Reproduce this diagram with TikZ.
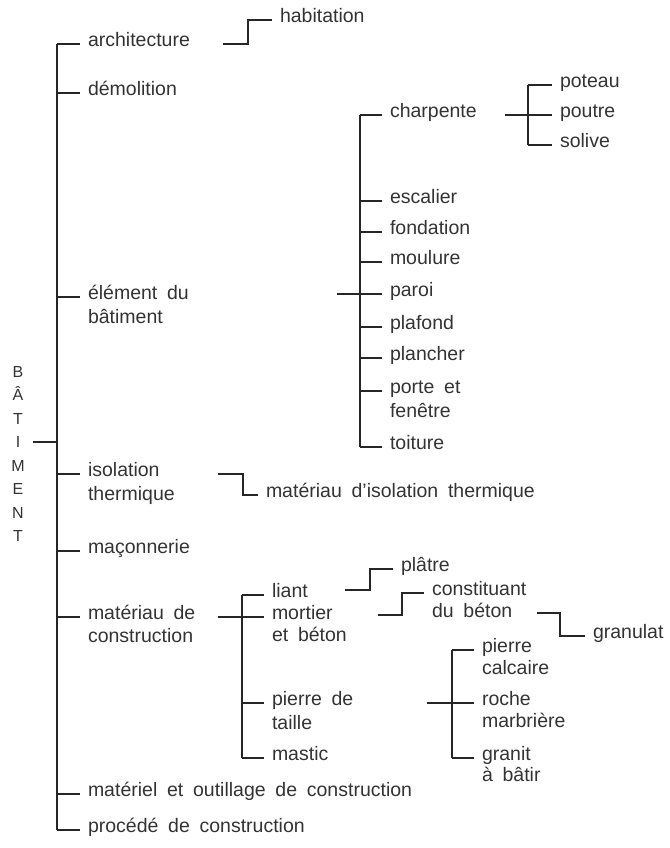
\documentclass[tikz,border=0pt]{standalone}
\usepackage{fontspec}
\setmainfont{Liberation Sans}
\begin{document}
\begin{tikzpicture}[x=1pt,y=-1pt,
  lbl/.style={anchor=mid west, inner xsep=8pt, inner ysep=0pt, outer sep=0pt,
    font={\fontsize{19.5}{23}\selectfont\spaceskip=0.5em\relax}, text=black!80},
  ln/.style={draw=black!85, line width=1.1pt}]
\useasboundingbox (0,0) rectangle (669,848);

% root
\node[font={\fontsize{16}{23.5}\selectfont}, align=center, text=black!80, inner sep=0pt] (root) at (18,454) {B\\Â\\T\\I\\M\\E\\N\\T};
\coordinate (rt) at (33,442);
\coordinate (t1) at (57,0);

% level 1
\node[lbl] (arch) at (80,44) {architecture};
\node[lbl] (demo) at (80,93) {démolition};
\node[lbl] (elem) at (80,297) {élément du};
\node[lbl] (elemb) at (80,321) {bâtiment};
\node[lbl] (iso) at (80,474) {isolation};
\node[lbl] (isob) at (80,498) {thermique};
\node[lbl] (macon) at (80,551) {maçonnerie};
\node[lbl] (matc) at (80,617) {matériau de};
\node[lbl] (matcb) at (80,640) {construction};
\node[lbl] (mato) at (80,794) {matériel et outillage de construction};
\node[lbl] (proc) at (80,830) {procédé de construction};

\draw[ln] (rt) -- (rt -| t1);
\draw[ln] (arch.mid west -| t1) -- (proc.mid west -| t1);
\foreach \n in {arch,demo,elem,iso,macon,matc,mato,proc}
  \draw[ln] (\n.mid west -| t1) -- (\n.mid west);

% habitation
\node[lbl] (habit) at (272,20) {habitation};
\coordinate (archout) at (223,44);
\draw[ln] (archout) -- ++(25,0) |- (habit.mid west);

% element du batiment
\coordinate (t2) at (360,0);
\coordinate (elemout) at (337,294);
\node[lbl] (charp) at (382,115) {charpente};
\node[lbl] (esc) at (382,201) {escalier};
\node[lbl] (fond) at (382,232) {fondation};
\node[lbl] (moul) at (382,262) {moulure};
\node[lbl] (paroi) at (382,294) {paroi};
\node[lbl] (plaf) at (382,327) {plafond};
\node[lbl] (planch) at (382,358) {plancher};
\node[lbl] (porte) at (382,391) {porte et};
\node[lbl] (porteb) at (382,415) {fenêtre};
\node[lbl] (toit) at (382,447) {toiture};
\draw[ln] (elemout) -- (paroi.mid west);
\draw[ln] (charp.mid west -| t2) -- (toit.mid west -| t2);
\foreach \n in {charp,esc,fond,moul,plaf,planch,porte,toit}
  \draw[ln] (\n.mid west -| t2) -- (\n.mid west);

% charpente
\coordinate (t3) at (528,0);
\coordinate (charpout) at (505,115);
\node[lbl] (poteau) at (552,85) {poteau};
\node[lbl] (poutre) at (552,115) {poutre};
\node[lbl] (solive) at (552,145) {solive};
\draw[ln] (charpout) -- (poutre.mid west);
\draw[ln] (poteau.mid west -| t3) -- (solive.mid west -| t3);
\foreach \n in {poteau,solive}
  \draw[ln] (\n.mid west -| t3) -- (\n.mid west);

% isolation thermique
\coordinate (isoout) at (218,474);
\node[lbl] (matiso) at (258,495) {matériau d’isolation thermique};
\draw[ln] (isoout) -- ++(25,0) |- (matiso.mid west);

% materiau de construction
\coordinate (t4) at (242,0);
\coordinate (matcout) at (218,617);
\node[lbl] (liant) at (264,595) {liant};
\node[lbl] (mortier) at (264,617) {mortier};
\node[lbl] (mortierb) at (264,639) {et béton};
\node[lbl] (pierre) at (264,703) {pierre de};
\node[lbl] (pierreb) at (264,727) {taille};
\node[lbl] (mastic) at (264,758) {mastic};
\draw[ln] (matcout) -- (mortier.mid west);
\draw[ln] (liant.mid west -| t4) -- (mastic.mid west -| t4);
\foreach \n in {liant,pierre,mastic}
  \draw[ln] (\n.mid west -| t4) -- (\n.mid west);

% platre
\coordinate (liantout) at (345,590);
\node[lbl] (platre) at (393,569) {plâtre};
\draw[ln] (liantout) -- ++(25,0) |- (platre.mid west);

% constituant du beton
\coordinate (mortout) at (378,615);
\node[lbl] (const) at (424,593) {constituant};
\node[lbl] (constb) at (424,615) {du béton};
\draw[ln] (mortout) -- ++(24,0) |- (const.mid west);

% granulat
\coordinate (betonout) at (537,613);
\node[lbl] (granulat) at (585,636) {granulat};
\draw[ln] (betonout) -- ++(23,0) |- (granulat.mid west);

% pierre de taille
\coordinate (t5) at (452,0);
\coordinate (pierreout) at (427,703);
\node[lbl] (pcal) at (474,650) {pierre};
\node[lbl] (pcalb) at (474,672) {calcaire};
\node[lbl] (roche) at (474,703) {roche};
\node[lbl] (rocheb) at (474,725) {marbrière};
\node[lbl] (granit) at (474,758) {granit};
\node[lbl] (granitb) at (474,779) {à bâtir};
\draw[ln] (pierreout) -- (roche.mid west);
\draw[ln] (pcal.mid west -| t5) -- (granit.mid west -| t5);
\foreach \n in {pcal,granit}
  \draw[ln] (\n.mid west -| t5) -- (\n.mid west);
\end{tikzpicture}
\end{document}
